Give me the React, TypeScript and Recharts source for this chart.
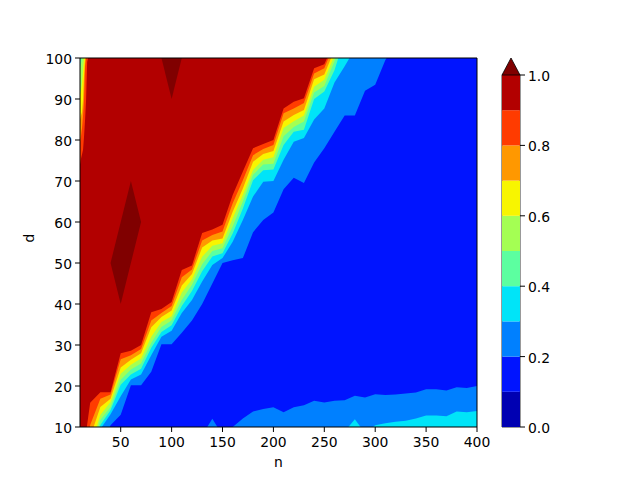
import { Area, AreaChart, Bar, BarChart, Label, ReferenceArea, XAxis, YAxis } from 'recharts';

const FONT = 'DejaVu Sans, sans-serif';

const nValues = [10, 20, 30, 40, 50, 60, 70, 80, 90, 100, 110, 120, 130, 140, 150, 160, 170, 180, 190, 200, 210, 220, 230, 240, 250, 260, 270, 280, 290, 300, 310, 320, 330, 340, 350, 360, 370, 380, 390, 400];
const xTicks = [50, 100, 150, 200, 250, 300, 350, 400];
const yTicks = [10, 20, 30, 40, 50, 60, 70, 80, 90, 100];
const barTicks = [0, 0.2, 0.4, 0.6, 0.8, 1];

const levelColors = ['#0000b2', '#0014ff', '#0080ff', '#00e4f8', '#5cffa0', '#a4ff53', '#f8f500', '#ff9800', '#ff3b00', '#b20000'];
const overColor = '#800000';

// d value of each contour edge at every n, values past the frame get clipped
const edge09 = [-2, 15.9, 18.5, 18.5, 28, 28.6, 30, 38, 38.8, 40.5, 48.3, 49.4, 57.3, 58.2, 59.3, 66.6, 72.3, 78, 79, 80, 87.7, 89.3, 90.2, 97.5, 98.5, 104, 120, 130, 130, 130, 130, 130, 130, 130, 130, 130, 130, 130, 130, 130];
const edge08 = [-5, 10.5, 16.9, 17.9, 26.5, 27.5, 29, 36, 37.8, 39.5, 46.5, 48.4, 55.5, 56.8, 57.7, 64.6, 70.2, 76.3, 77.8, 78.8, 86.5, 87.7, 89, 96.2, 97.5, 103.5, 120, 130, 130, 130, 130, 130, 130, 130, 130, 130, 130, 130, 130, 130];
const edge07 = [-8, 7.5, 14.9, 16.9, 24.5, 26.4, 28, 34.3, 36.8, 38.4, 44.5, 47.3, 53.8, 55.5, 56, 62.5, 68.2, 74.7, 76.6, 77.3, 84.5, 86.1, 87.3, 94.8, 96, 102, 115, 130, 130, 130, 130, 130, 130, 130, 130, 130, 130, 130, 130, 130];
const edge06 = [-10, 5, 12.9, 16.1, 23, 25.2, 26.7, 32, 35.6, 37, 42.8, 46, 51.5, 54.2, 54.8, 60.9, 66.6, 72.7, 75.2, 75.8, 82.9, 84.6, 86, 93, 94.7, 100.6, 112, 130, 130, 130, 130, 130, 130, 130, 130, 130, 130, 130, 130, 130];
const edge05 = [-12, 3, 11.7, 14.9, 21.5, 24, 25.5, 30.5, 34.4, 36, 41, 44.7, 49.7, 52.9, 53.6, 58.9, 65, 71.5, 74, 74.2, 80.9, 83.2, 84.5, 91.6, 93.2, 99.2, 110, 130, 130, 130, 130, 130, 130, 130, 130, 130, 130, 130, 130, 130];
const edge04 = [-14, 0, 10.5, 14.1, 20.3, 22.8, 24.2, 29.3, 33.2, 34.8, 39.5, 43.2, 48, 51.6, 52.4, 57.2, 63.3, 70.2, 72.6, 72.8, 78.8, 82, 82.5, 90, 91.8, 97, 105, 130, 130, 130, 130, 130, 130, 130, 130, 130, 130, 130, 130, 130];
const edge03 = [-20, -3, 9.5, 13.1, 17.5, 21.6, 22.8, 27.5, 32, 33.5, 37.8, 41, 45.5, 49.5, 51.2, 55.2, 60.5, 66.2, 69.8, 70, 75.2, 79.6, 80.5, 85, 87.7, 94, 98, 102.2, 130, 130, 130, 130, 130, 130, 130, 130, 130, 130, 130, 130];
const edge02 = [-40, -8, 5, 10.4, 13, 20.2, 20.2, 23.5, 30.2, 30.2, 33, 36, 40, 45, 50, 50.7, 51.2, 57.5, 60.5, 62.3, 68, 70.8, 69.5, 74.5, 78, 82, 86, 86, 92, 93.5, 99.5, 103.5, 130, 130, 130, 130, 130, 130, 130, 130];
const floor02 = [5, 5, 5, 5, 5, 5, 5, 5, 5, 5, 5, 5, 8, 12, 8, 10, 12.1, 13.8, 14.4, 14.8, 13.6, 14.8, 15.3, 16.4, 16, 16.4, 16.5, 17.6, 17.2, 18, 17.8, 17.9, 18.2, 18.4, 19.2, 19.2, 18.9, 19.7, 19.5, 20];
const floor03 = [5, 5, 5, 5, 5, 5, 5, 5, 5, 5, 5, 5, 5, 5, 5, 5, 5, 5, 5, 5, 5, 5, 5, 5, 5, 5, 8.9, 11.9, 8.5, 10.4, 10.9, 11.3, 11.5, 12.1, 12.8, 12.8, 12.6, 13.8, 13.6, 13.9];
const ceiling = nValues.map(() => 100);

// thin strips along the left edge, lower d of each band
const leftN = [10, 11, 12, 13, 14, 15, 16, 17, 18];
const left09 = [74, 75.5, 76.5, 77.6, 81, 85, 90, 99, 100];
const left08 = [79.5, 81, 83, 86, 89.8, 98, 100, 100, 100];
const left07 = [85, 86, 86.8, 90, 96, 100, 100, 100, 100];
const left06 = [91, 92, 94, 97, 100, 100, 100, 100, 100];
const left05 = [97, 98.5, 100, 100, 100, 100, 100, 100, 100];

// patches above 1.0
const patchN = [40, 50, 60, 70];
const patchLow = [50, 40, 50, 60];
const patchHigh = [50, 60, 70, 60];
const tipN = [90, 100, 110];
const tipLow = [100, 90, 100];

const layers: Array<[string, number]> = [
  ['ceiling', 9],
  ['edge09', 8],
  ['edge08', 7],
  ['edge07', 6],
  ['edge06', 5],
  ['edge05', 4],
  ['edge04', 3],
  ['edge03', 2],
  ['edge02', 1],
  ['floor02', 2],
  ['floor03', 3],
];
const strips: Array<[string, number]> = [
  ['left09', 8],
  ['left08', 7],
  ['left07', 6],
  ['left06', 5],
  ['left05', 4],
];

const allN = Array.from(new Set([...nValues, ...leftN])).sort((a, b) => a - b);
const table = allN.map((n) => {
  const row: Record<string, number | number[]> = { n };
  const i = nValues.indexOf(n);
  if (i >= 0) {
    Object.entries({ ceiling, edge09, edge08, edge07, edge06, edge05, edge04, edge03, edge02, floor02, floor03 }).forEach(([key, values]) => {
      row[key] = values[i];
    });
  }
  const j = leftN.indexOf(n);
  if (j >= 0) {
    Object.entries({ left09, left08, left07, left06, left05 }).forEach(([key, values]) => {
      row[key] = [values[j], 100];
    });
  }
  const p = patchN.indexOf(n);
  if (p >= 0) row.patch = [patchLow[p], patchHigh[p]];
  const t = tipN.indexOf(n);
  if (t >= 0) row.tip = [tipLow[t], 100];
  return row;
});

const barRow: Record<string, number | string> = { name: 'scale', over: 0.0483 };
levelColors.forEach((_, i) => {
  barRow[`level${i}`] = 0.1;
});

function OverTriangle({ x, y, width, height }: any) {
  return <path d={`M${x},${y + height}L${x + width / 2},${y}L${x + width},${y + height}Z`} fill={overColor} stroke="#000" strokeWidth={0.8} />;
}

const tickStyle = { fontFamily: FONT, fontSize: 13.9, fill: '#000' };
const yTickStyle = { ...tickStyle, dy: 1 };
const axisLine = { stroke: '#000', strokeWidth: 1 };

function band(key: string, color: string) {
  return <Area key={key} dataKey={key} type="linear" fill={color} fillOpacity={1} stroke="none" connectNulls dot={false} activeDot={false} isAnimationActive={false} />;
}

export default function App() {
  return (
    <div style={{ position: 'absolute', left: 0, top: 0, width: 640, height: 480, background: '#fff' }}>
      <div style={{ position: 'absolute', left: 0, top: 0 }}>
        <AreaChart width={640} height={480} data={table} margin={{ top: 58, right: 163, bottom: 23, left: 30 }}>
          <XAxis dataKey="n" type="number" domain={[10, 400]} ticks={xTicks} allowDataOverflow height={30} tick={tickStyle} tickSize={5} tickMargin={5} tickLine={axisLine} axisLine={false}>
            <Label value="n" position="insideBottom" offset={-10} style={tickStyle} />
          </XAxis>
          <YAxis type="number" domain={[10, 100]} ticks={yTicks} allowDataOverflow width={50} interval={0} tick={yTickStyle} tickSize={5} tickMargin={3} tickLine={axisLine} axisLine={false}>
            <Label value="d" angle={-90} position="insideLeft" offset={-1} style={tickStyle} />
          </YAxis>
          {layers.map(([key, level]) => band(key, levelColors[level]))}
          {strips.map(([key, level]) => band(key, levelColors[level]))}
          {band('patch', overColor)}
          {band('tip', overColor)}
          <ReferenceArea x1={10} x2={400} y1={10} y2={100} fill="none" stroke="#000" strokeWidth={1} />
        </AreaChart>
      </div>
      <div style={{ position: 'absolute', left: 0, top: 0 }}>
        <BarChart width={640} height={480} data={[barRow]} barCategoryGap={0} margin={{ top: 58, right: 70, bottom: 53, left: 502 }}>
          <XAxis dataKey="name" hide />
          <YAxis orientation="right" type="number" domain={[0, 1.0483]} ticks={barTicks} allowDataOverflow width={50} interval={0} tick={yTickStyle} tickSize={5} tickMargin={3} tickLine={axisLine} axisLine={false} tickFormatter={(v: number) => v.toFixed(1)} />
          {levelColors.map((color, i) => (
            <Bar key={color} dataKey={`level${i}`} stackId="scale" fill={color} isAnimationActive={false} />
          ))}
          <Bar dataKey="over" stackId="scale" shape={<OverTriangle />} isAnimationActive={false} />
          <ReferenceArea y1={0} y2={1} fill="none" stroke="#000" strokeWidth={0.8} />
        </BarChart>
      </div>
    </div>
  );
}
